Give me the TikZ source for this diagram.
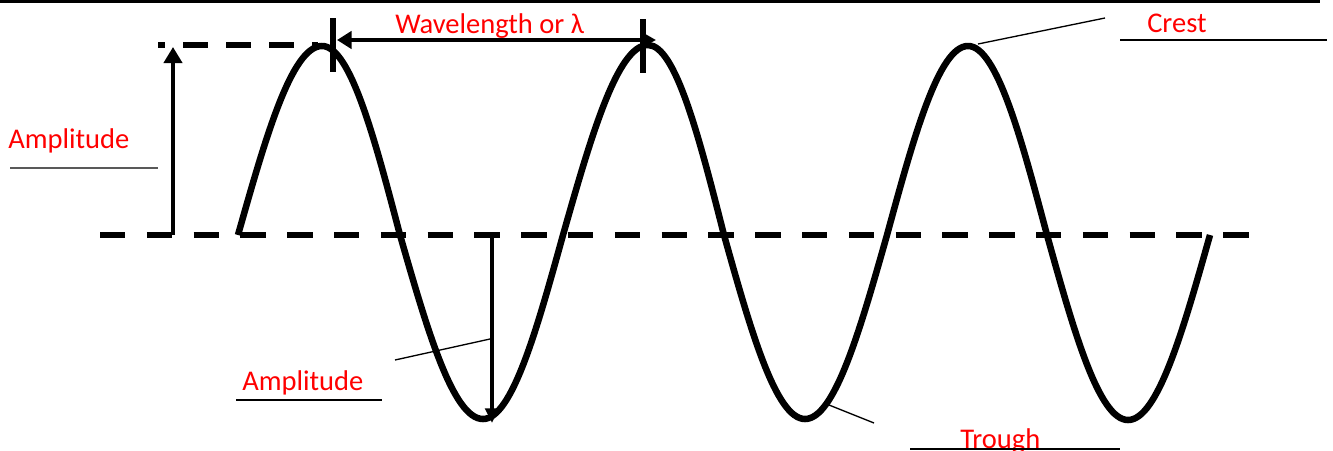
\documentclass[tikz,border=0pt]{standalone}
\usepackage{fontspec}
\setmainfont{Carlito}
\usetikzlibrary{arrows.meta}
\begin{document}
\begin{tikzpicture}[x=0.75pt,y=-0.75pt,
  wave/.style={line width=4.9pt, line join=round},
  axisline/.style={line width=5.2pt, dash pattern=on 19.1pt off 16pt},
  peakline/.style={line width=4.3pt, dash pattern=on 18.75pt off 13.5pt, dash phase=13.5pt},
  measure/.style={line width=3.5pt},
  tickbar/.style={line width=3.8pt},
  lbl/.style={text=red, font=\fontsize{21.4pt}{24pt}\selectfont, inner sep=0pt, anchor=base west},
  leader/.style={line width=1pt},
  uline/.style={line width=1pt},
  upline/.style={line width=1.1pt, draw=black!65}
]
\useasboundingbox (0,0) rectangle (1333,450);

% top rule
\coordinate (topL) at (0,1.5);
\coordinate (topR) at (1320,1.5);
\draw[line width=2.3pt] (topL) -- (topR);

% key points of the wave
\coordinate (z0) at (238,235);
\coordinate (c1) at (322,46);
\coordinate (z1) at (400,235);
\coordinate (t1) at (483,419);
\coordinate (z2) at (563,235);
\coordinate (c2) at (648,45);
\coordinate (z3) at (724,235);
\coordinate (t2) at (805,419);
\coordinate (z4) at (887,235);
\coordinate (c3) at (968,46);
\coordinate (z5) at (1047,235);
\coordinate (t3) at (1128,420);
\coordinate (z6) at (1210,235);

% dashed lines
\coordinate (axL) at (100,235);
\coordinate (axR) at (1249,235);
\draw[axisline] (axL) -- (axR);
\coordinate (pkL) at (158,45);
\coordinate (pkR) at (318,45);
\draw[peakline] (pkL) -- (pkR);

% the wave
\draw[wave] (z0) sin (c1) cos (z1) sin (t1) cos (z2) sin (c2) cos (z3)
  sin (t2) cos (z4) sin (c3) cos (z5) sin (t3) cos (z6);

% amplitude arrows
\coordinate (upB) at (173,235);
\coordinate (upT) at (173,47);
\draw[measure,-{Triangle[length=12pt,width=13.5pt]}] (upB) -- (upT);
\coordinate (dnT) at (492,237);
\coordinate (dnB) at (492,423);
\draw[measure,-{Triangle[length=11pt,width=10pt]}] (dnT) -- (dnB);

% wavelength
\coordinate (wlL) at (337,40);
\coordinate (wlR) at (656,40);
\draw[measure,{Triangle[length=11pt,width=13pt]}-{Triangle[length=10.5pt,width=11pt]}] (wlL) -- (wlR);
\coordinate (tk1a) at (333,18);
\coordinate (tk1b) at (333,72);
\coordinate (tk2a) at (643,19);
\coordinate (tk2b) at (643,73);
\draw[tickbar] (tk1a) -- (tk1b);
\draw[tickbar] (tk2a) -- (tk2b);

% labels
\node[lbl] (amp1) at (8,148) {Amplitude};
\node[lbl] (wl) at (395,33) {Wavelength or λ};
\node[lbl] (amp2) at (242,390) {Amplitude};
\node[lbl] (crest) at (1147,32) {Crest};
\node[lbl] (trough) at (960,448) {Trough};

% underlines
\coordinate (u1a) at (10,168); \coordinate (u1b) at (158,168);
\draw[upline] (u1a) -- (u1b);
\coordinate (u2a) at (236,400); \coordinate (u2b) at (382,400);
\draw[uline] (u2a) -- (u2b);
\coordinate (u3a) at (1120,40); \coordinate (u3b) at (1327,40);
\draw[uline] (u3a) -- (u3b);
\coordinate (u4a) at (910,449); \coordinate (u4b) at (1120,449);
\draw[uline] (u4a) -- (u4b);

% leader lines
\coordinate (ld1a) at (395,360); \coordinate (ld1b) at (490,339);
\draw[leader] (ld1a) -- (ld1b);
\coordinate (ld2a) at (978,44); \coordinate (ld2b) at (1105,18);
\draw[leader] (ld2a) -- (ld2b);
\coordinate (ld3a) at (829,405); \coordinate (ld3b) at (874,423);
\draw[leader] (ld3a) -- (ld3b);
\end{tikzpicture}
\end{document}
